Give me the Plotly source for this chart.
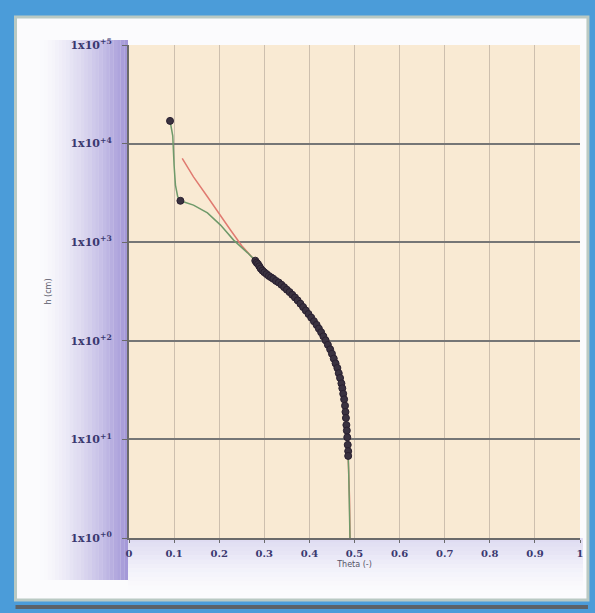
import plotly.graph_objects as go

# Measured points (theta, h)
theta_obs = [0.091, 0.114,
             0.280, 0.283, 0.286, 0.289, 0.292, 0.296, 0.300, 0.305, 0.310, 0.315,
             0.320, 0.326, 0.332, 0.338, 0.344, 0.350, 0.356, 0.362, 0.368, 0.374,
             0.380, 0.386, 0.392, 0.398, 0.404, 0.410, 0.416, 0.421, 0.426, 0.431,
             0.436, 0.441, 0.446, 0.450, 0.454, 0.458, 0.462, 0.465, 0.468, 0.471,
             0.473, 0.475, 0.477, 0.479, 0.480, 0.481, 0.482, 0.483, 0.484, 0.485,
             0.486, 0.486]
h_obs = [17000, 2630,
         650, 620, 600, 570, 540, 515, 495, 475, 455, 440,
         425, 405, 390, 370, 350, 330, 312, 293, 275, 257,
         238, 220, 203, 187, 172, 158, 145, 133, 122, 111,
         101, 91, 82, 74, 66, 59, 53, 47, 42, 37,
         33, 29, 25.5, 22, 19, 16.5, 14, 12.3, 10.5, 8.8,
         7.6, 6.8]

# Fitted curve 1 (green)
theta_fit1 = [0.091, 0.097, 0.100, 0.103, 0.108, 0.114, 0.143, 0.174, 0.203, 0.232,
              0.263, 0.285, 0.310, 0.340, 0.370, 0.400, 0.430, 0.450, 0.465, 0.475,
              0.481, 0.485, 0.487, 0.489, 0.490]
h_fit1 = [17000, 12000, 6000, 3800, 2900, 2630, 2380, 1980, 1490, 1050,
          780, 620, 455, 360, 270, 183, 113, 74, 47, 29,
          16.5, 9, 5, 2.5, 1]

# Fitted curve 2 (red)
theta_fit2 = [0.118, 0.143, 0.174, 0.198, 0.225, 0.250, 0.280, 0.310, 0.340, 0.370,
              0.400, 0.430, 0.450, 0.465, 0.475, 0.481, 0.485, 0.487, 0.489, 0.490]
h_fit2 = [7100, 4600, 2890, 1990, 1330, 920, 650, 455, 360, 270,
          183, 113, 74, 47, 29, 16.5, 9, 5, 2.5, 1]

x_ticks = [0, 0.1, 0.2, 0.3, 0.4, 0.5, 0.6, 0.7, 0.8, 0.9, 1]
x_labels = ["0", "0.1", "0.2", "0.3", "0.4", "0.5", "0.6", "0.7", "0.8", "0.9", "1"]
y_ticks = [1, 10, 100, 1000, 10000, 100000]
y_labels = ["1x10<sup>+0</sup>", "1x10<sup>+1</sup>", "1x10<sup>+2</sup>",
            "1x10<sup>+3</sup>", "1x10<sup>+4</sup>", "1x10<sup>+5</sup>"]

W, H = 595, 613
L, R, T, B = 129, 13, 45, 75
PW = W - L - R
PH = H - T - B


def px2paper_x(px):
    return (px - L) / PW


def px2paper_y(py):
    return (H - B - py) / PH


fig = go.Figure()

fig.add_trace(go.Scatter(x=theta_fit2, y=h_fit2, mode="lines",
                         line=dict(color="#e07a70", width=1.5), showlegend=False))
fig.add_trace(go.Scatter(x=theta_fit1, y=h_fit1, mode="lines",
                         line=dict(color="#6f9a6a", width=1.5), showlegend=False))
fig.add_trace(go.Scatter(x=theta_obs, y=h_obs, mode="markers",
                         marker=dict(color="#3a3240", size=7,
                                     line=dict(color="#2a2030", width=1)),
                         showlegend=False))

shapes = []
# white panel
shapes.append(dict(type="rect", xref="paper", yref="paper", layer="below",
                   x0=px2paper_x(15), x1=px2paper_x(590), y0=px2paper_y(600), y1=px2paper_y(17),
                   fillcolor="#fbfbfd", line=dict(color="#b9c9c3", width=3)))
# bottom dark line
shapes.append(dict(type="rect", xref="paper", yref="paper", layer="below",
                   x0=px2paper_x(15), x1=px2paper_x(590), y0=px2paper_y(609), y1=px2paper_y(605),
                   fillcolor="#5c6268", line=dict(width=0)))
# left purple gradient
n = 24
for i in range(n):
    x0 = 40 + i * (128 - 40) / n
    x1 = 40 + (i + 1) * (128 - 40) / n
    a = ((i + 1) / n) ** 1.5 * 0.68
    shapes.append(dict(type="rect", xref="paper", yref="paper", layer="below",
                       x0=px2paper_x(x0), x1=px2paper_x(x1),
                       y0=px2paper_y(580), y1=px2paper_y(40),
                       fillcolor=f"rgba(122,105,198,{a:.3f})", line=dict(width=0)))
# bottom lavender gradient
m = 12
for i in range(m):
    y0 = 538 + i * (590 - 538) / m
    y1 = 538 + (i + 1) * (590 - 538) / m
    a = (1 - i / m) ** 1.4 * 0.28
    shapes.append(dict(type="rect", xref="paper", yref="paper", layer="below",
                       x0=px2paper_x(128), x1=px2paper_x(585),
                       y0=px2paper_y(y1), y1=px2paper_y(y0),
                       fillcolor=f"rgba(150,140,215,{a:.3f})", line=dict(width=0)))
# plot area
shapes.append(dict(type="rect", xref="paper", yref="paper", layer="below",
                   x0=0, x1=1, y0=0, y1=1, fillcolor="#f9ead3", line=dict(width=0)))

tickfont = dict(family="DejaVu Serif", size=11, color="#3a3870", weight="bold")

fig.update_layout(
    width=W, height=H,
    margin=dict(l=L, r=R, t=T, b=B),
    paper_bgcolor="#4b9cd9",
    plot_bgcolor="rgba(0,0,0,0)",
    shapes=shapes,
    font=dict(family="DejaVu Sans", color="#3c3a6a", size=9),
    xaxis=dict(range=[0, 1], tickvals=x_ticks, ticktext=x_labels,
               showgrid=True, gridcolor="#cdbfae", gridwidth=1,
               showline=True, linecolor="#6a6a6a", linewidth=2,
               ticks="outside", ticklen=3, tickcolor="#6a6a6a",
               tickfont=dict(family="DejaVu Serif", size=10, color="#3a3870", weight="bold"),
               ticklabelstandoff=2,
               title=dict(text="Theta (-)", font=dict(size=8, color="#555566"), standoff=3),
               zeroline=False),
    yaxis=dict(type="log", range=[0, 5], tickvals=y_ticks, ticktext=y_labels,
               showgrid=True, gridcolor="#767676", gridwidth=2,
               showline=True, linecolor="#6a6a6a", linewidth=2,
               ticks="outside", ticklen=5, tickcolor="#6a6a6a",
               tickfont=tickfont, ticklabelstandoff=8,
               title=dict(text="h (cm)", font=dict(size=8, color="#555566"), standoff=18),
               zeroline=False),
)

fig.write_html("out.html", config={"displayModeBar": False},
               post_script="document.body.style.margin='0';document.body.style.padding='0';")
